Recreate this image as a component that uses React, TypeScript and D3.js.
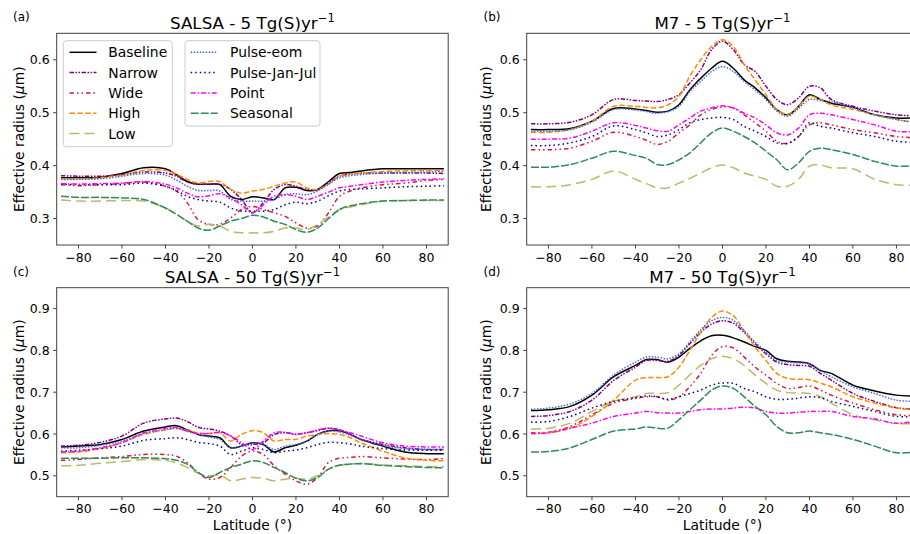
import React from 'react';
import * as d3 from 'd3';

// ---------- data ----------
const LAT = [-88, -80, -70, -60, -50, -40, -35, -30, -25, -20, -15, -10, -5, 0, 5, 10, 15, 20, 25, 30, 35, 40, 45, 50, 60, 70, 80, 88];

const SERIES_NAMES = ['Baseline', 'Narrow', 'Wide', 'High', 'Low', 'Pulse-eom', 'Pulse-Jan-Jul', 'Point', 'Seasonal'];
const X_TICKS = [-80, -60, -40, -20, 0, 20, 40, 60, 80];
const Y_TICKS_5 = [0.3, 0.4, 0.5, 0.6];
const Y_TICKS_50 = [0.5, 0.6, 0.7, 0.8, 0.9];

// (a) SALSA 5 Tg
const A_BASELINE = [.377,.377,.378,.385,.396,.394,.383,.370,.365,.365,.364,.342,.336,.341,.339,.336,.358,.359,.353,.355,.370,.385,.387,.390,.394,.394,.394,.394];
const A_NARROW = [.381,.380,.380,.383,.388,.386,.380,.369,.365,.365,.365,.355,.336,.311,.330,.355,.364,.361,.355,.355,.368,.380,.384,.386,.386,.386,.386,.385];
const A_WIDE = [.364,.362,.364,.366,.369,.361,.352,.330,.298,.289,.289,.301,.317,.323,.317,.311,.304,.292,.282,.286,.311,.342,.352,.358,.364,.367,.372,.374];
const A_HIGH = [.375,.375,.377,.382,.391,.391,.384,.374,.367,.370,.370,.355,.348,.352,.355,.361,.367,.369,.358,.355,.365,.380,.384,.386,.389,.390,.391,.391];
const A_LOW = [.335,.333,.333,.334,.333,.320,.308,.295,.286,.289,.286,.276,.273,.273,.273,.276,.282,.282,.279,.289,.303,.317,.322,.326,.333,.334,.334,.334];
const A_EOM = [.374,.374,.375,.380,.385,.382,.373,.361,.353,.353,.352,.336,.333,.333,.333,.336,.345,.347,.345,.352,.365,.377,.381,.383,.386,.387,.388,.389];
const A_JANJUL = [.365,.364,.364,.364,.367,.361,.353,.342,.336,.333,.331,.320,.314,.314,.314,.317,.326,.331,.328,.333,.343,.352,.355,.356,.358,.360,.361,.362];
const A_POINT = [.366,.365,.366,.367,.370,.365,.358,.348,.341,.343,.347,.339,.326,.311,.326,.342,.345,.342,.336,.342,.350,.358,.361,.364,.369,.372,.374,.375];
const A_SEASONAL = [.342,.340,.340,.339,.336,.320,.308,.295,.282,.278,.286,.295,.300,.306,.303,.295,.289,.279,.274,.282,.300,.317,.324,.328,.333,.334,.335,.335];

// (b) M7 5 Tg
const B_BASELINE = [.468,.468,.470,.484,.508,.507,.504,.501,.503,.515,.543,.565,.584,.597,.584,.562,.547,.528,.506,.496,.512,.534,.525,.518,.510,.496,.490,.490];
const B_NARROW = [.479,.479,.482,.496,.525,.523,.522,.521,.525,.534,.556,.581,.619,.635,.619,.591,.578,.550,.525,.515,.528,.550,.547,.525,.512,.503,.496,.494];
const B_WIDE = [.430,.430,.433,.446,.463,.455,.448,.440,.446,.462,.477,.496,.506,.511,.509,.496,.481,.465,.446,.442,.455,.477,.481,.477,.468,.462,.455,.453];
const B_HIGH = [.463,.463,.468,.484,.512,.512,.510,.509,.515,.531,.569,.600,.625,.638,.625,.591,.562,.534,.506,.497,.512,.531,.525,.515,.506,.496,.487,.482];
const B_LOW = [.360,.360,.364,.374,.390,.374,.366,.358,.358,.367,.376,.386,.396,.401,.396,.386,.380,.374,.361,.361,.374,.399,.401,.396,.394,.374,.364,.363];
const B_EOM = [.465,.465,.468,.482,.506,.505,.502,.499,.502,.512,.540,.559,.578,.587,.578,.559,.543,.525,.503,.493,.508,.525,.523,.521,.509,.496,.487,.482];
const B_JANJUL = [.438,.438,.443,.455,.475,.468,.462,.455,.458,.468,.481,.487,.490,.491,.487,.474,.465,.455,.443,.442,.455,.481,.474,.471,.462,.455,.446,.444];
const B_POINT = [.450,.450,.452,.465,.481,.476,.471,.466,.465,.477,.490,.503,.509,.513,.509,.499,.490,.477,.462,.458,.471,.496,.499,.496,.487,.477,.465,.464];
const B_SEASONAL = [.397,.397,.402,.414,.427,.419,.414,.402,.402,.411,.424,.443,.462,.471,.465,.455,.443,.427,.411,.392,.405,.427,.433,.430,.421,.408,.399,.400];

// (c) SALSA 50 Tg
const C_BASELINE = [.569,.571,.575,.587,.607,.617,.620,.610,.599,.595,.591,.567,.571,.579,.575,.557,.567,.573,.583,.599,.608,.608,.599,.587,.571,.557,.553,.553];
const C_NARROW = [.571,.573,.580,.595,.626,.636,.638,.630,.616,.612,.607,.595,.575,.575,.579,.599,.603,.599,.603,.608,.614,.610,.599,.587,.575,.567,.563,.563];
const C_WIDE = [.537,.539,.543,.546,.551,.551,.547,.532,.508,.492,.496,.520,.547,.559,.551,.524,.504,.488,.480,.496,.532,.542,.544,.546,.543,.540,.539,.541];
const C_HIGH = [.555,.557,.565,.579,.599,.610,.614,.609,.603,.601,.603,.583,.599,.608,.603,.583,.587,.587,.595,.599,.601,.599,.591,.579,.559,.543,.537,.536];
const C_LOW = [.524,.525,.530,.534,.539,.537,.531,.520,.506,.500,.502,.488,.492,.496,.494,.488,.492,.494,.492,.500,.516,.525,.528,.530,.526,.524,.522,.522];
const C_EOM = [.567,.567,.573,.583,.601,.610,.613,.607,.599,.593,.587,.567,.571,.579,.575,.563,.571,.575,.583,.599,.607,.605,.597,.587,.573,.565,.563,.563];
const C_JANJUL = [.559,.561,.565,.571,.585,.589,.591,.587,.580,.577,.571,.551,.559,.567,.563,.555,.559,.562,.567,.575,.580,.579,.576,.571,.565,.562,.561,.561];
const C_POINT = [.557,.559,.567,.579,.603,.614,.616,.607,.601,.601,.604,.595,.579,.563,.583,.603,.604,.600,.603,.610,.614,.610,.603,.595,.579,.571,.569,.569];
const C_SEASONAL = [.542,.542,.542,.543,.543,.541,.537,.528,.508,.496,.508,.520,.528,.536,.532,.520,.508,.494,.488,.496,.516,.525,.528,.529,.525,.522,.520,.519];

// (d) M7 50 Tg
const D_BASELINE = [.656,.658,.666,.693,.737,.764,.778,.778,.772,.784,.805,.823,.835,.836,.830,.820,.809,.800,.780,.774,.772,.768,.752,.745,.717,.703,.693,.691];
const D_NARROW = [.642,.644,.654,.681,.728,.760,.776,.776,.774,.788,.816,.843,.863,.871,.865,.843,.816,.792,.772,.766,.764,.762,.745,.729,.697,.678,.663,.659];
const D_WIDE = [.603,.604,.618,.646,.674,.685,.689,.689,.681,.689,.713,.745,.788,.809,.806,.784,.760,.741,.721,.709,.711,.715,.705,.693,.674,.658,.646,.644];
const D_HIGH = [.601,.603,.614,.642,.681,.729,.735,.735,.737,.760,.800,.843,.879,.894,.883,.847,.808,.776,.745,.733,.731,.730,.722,.713,.689,.674,.662,.658];
const D_LOW = [.612,.614,.626,.654,.678,.689,.697,.697,.699,.717,.741,.764,.780,.786,.780,.764,.741,.721,.705,.699,.698,.697,.689,.674,.646,.634,.625,.625];
const D_EOM = [.659,.662,.672,.697,.741,.772,.784,.784,.780,.792,.820,.849,.871,.879,.872,.847,.820,.796,.776,.772,.770,.768,.752,.737,.713,.697,.681,.678];
const D_JANJUL = [.628,.630,.642,.662,.678,.687,.691,.689,.683,.689,.697,.705,.717,.722,.721,.709,.701,.689,.683,.683,.686,.689,.687,.678,.666,.654,.642,.642];
const D_POINT = [.601,.603,.614,.626,.642,.650,.654,.651,.650,.650,.654,.658,.660,.660,.662,.664,.662,.654,.650,.650,.652,.654,.654,.654,.642,.636,.626,.630];
const D_SEASONAL = [.557,.558,.567,.587,.607,.612,.617,.614,.614,.634,.658,.681,.705,.715,.709,.689,.666,.646,.618,.603,.603,.607,.603,.599,.587,.571,.555,.557];

// ---------- styles ----------
const STYLES = [
  { color: '#000000', dash: undefined },
  { color: '#800080', dash: '4.5,1.5,1.5,1.5,1.5,1.5' },
  { color: '#DC143C', dash: '4.5,3,1.5,3,1.5,3' },
  { color: '#FF8C00', dash: '5.5,2.4' },
  { color: '#BDB76B', dash: '10,5' },
  { color: '#4169E1', dash: '1.5,1.5' },
  { color: '#00008B', dash: '1.5,3' },
  { color: '#FF00FF', dash: '5,2,1.5,2' },
  { color: '#2E8B57', dash: '8,2' },
];

const FONT = '"DejaVu Sans", sans-serif';
const TICK_FS = 12.5;

const PANELS = [
  { id: '(a)', title: 'SALSA - 5 Tg(S)yr', data: [A_BASELINE, A_NARROW, A_WIDE, A_HIGH, A_LOW, A_EOM, A_JANJUL, A_POINT, A_SEASONAL], yDomain: [0.25, 0.65], yTicks: Y_TICKS_5, left: 56.7, top: 33.3, width: 391.5, height: 211.7, xlabel: false, legend: true },
  { id: '(b)', title: 'M7 - 5 Tg(S)yr', data: [B_BASELINE, B_NARROW, B_WIDE, B_HIGH, B_LOW, B_EOM, B_JANJUL, B_POINT, B_SEASONAL], yDomain: [0.25, 0.65], yTicks: Y_TICKS_5, left: 526.7, top: 33.3, width: 391.5, height: 211.7, xlabel: false, legend: false },
  { id: '(c)', title: 'SALSA - 50 Tg(S)yr', data: [C_BASELINE, C_NARROW, C_WIDE, C_HIGH, C_LOW, C_EOM, C_JANJUL, C_POINT, C_SEASONAL], yDomain: [0.45, 0.95], yTicks: Y_TICKS_50, left: 56.7, top: 287.7, width: 391.5, height: 209, xlabel: true, legend: false },
  { id: '(d)', title: 'M7 - 50 Tg(S)yr', data: [D_BASELINE, D_NARROW, D_WIDE, D_HIGH, D_LOW, D_EOM, D_JANJUL, D_POINT, D_SEASONAL], yDomain: [0.45, 0.95], yTicks: Y_TICKS_50, left: 526.7, top: 287.7, width: 391.5, height: 209, xlabel: true, legend: false },
];

const fmtX = d3.format('d');
const fmtY = d3.format('.1f');

function Legend() {
  const col1 = [0, 1, 2, 3, 4];
  const col2 = [5, 6, 7, 8];
  const rowY = (i: number) => 52.3 + i * 20.3;
  const entry = (idx: number, i: number, lx: number, tx: number) => (
    <g key={idx}>
      <line x1={lx} x2={lx + 27} y1={rowY(i)} y2={rowY(i)} stroke={STYLES[idx].color} strokeWidth={1.5} strokeDasharray={STYLES[idx].dash} />
      <text x={tx} y={rowY(i) + 5} fontSize={13.9} fontFamily={FONT} fill="#000">{SERIES_NAMES[idx]}</text>
    </g>
  );
  return (
    <g>
      <rect x={63.3} y={40.7} width={109} height={106} rx={3} fill="#fff" fillOpacity={0.8} stroke="#cccccc" strokeWidth={1} />
      {col1.map((idx, i) => entry(idx, i, 69.5, 108.3))}
      <rect x={185} y={40.7} width={135} height={85.3} rx={3} fill="#fff" fillOpacity={0.8} stroke="#cccccc" strokeWidth={1} />
      {col2.map((idx, i) => entry(idx, i, 190.7, 230))}
    </g>
  );
}

function Panel({ p, k }: { p: any; k: number }) {
  const x = d3.scaleLinear().domain([-90, 90]).range([p.left, p.left + p.width]);
  const y = d3.scaleLinear().domain(p.yDomain).range([p.top + p.height, p.top]);
  const line = d3.line<number>()
    .x((_, i) => x(LAT[i]))
    .y((d) => y(d))
    .curve(d3.curveCatmullRom.alpha(0.5));
  const bottom = p.top + p.height;
  const cx = p.left + p.width / 2;
  const cy = p.top + p.height / 2;
  const clipId = `clip${k}`;
  const ylabX = p.left < 300 ? 23.5 : 491;
  const idX = p.left < 300 ? 13 : 483.5;
  return (
    <g>
      <defs>
        <clipPath id={clipId}>
          <rect x={p.left} y={p.top} width={p.width} height={p.height} />
        </clipPath>
      </defs>
      <g clipPath={`url(#${clipId})`}>
        {p.data.map((vals: number[], i: number) => (
          <path key={i} d={line(vals) || ''} fill="none" stroke={STYLES[i].color} strokeWidth={1.5} strokeDasharray={STYLES[i].dash} />
        ))}
      </g>
      <rect x={p.left} y={p.top} width={p.width} height={p.height} fill="none" stroke="#404040" strokeWidth={1} />
      {X_TICKS.map((t) => (
        <g key={t}>
          <line x1={x(t)} x2={x(t)} y1={bottom} y2={bottom + 3.5} stroke="#404040" strokeWidth={1} />
          <text x={x(t)} y={bottom + 16.5} textAnchor="middle" fontSize={TICK_FS} fontFamily={FONT} fill="#000">{fmtX(t)}</text>
        </g>
      ))}
      {p.yTicks.map((t: number) => (
        <g key={t}>
          <line x1={p.left - 3.5} x2={p.left} y1={y(t)} y2={y(t)} stroke="#404040" strokeWidth={1} />
          <text x={p.left - 7} y={y(t) + 4.5} textAnchor="end" fontSize={TICK_FS} fontFamily={FONT} fill="#000">{fmtY(t)}</text>
        </g>
      ))}
      <text transform={`translate(${ylabX},${cy}) rotate(-90)`} textAnchor="middle" fontSize={13.9} fontFamily={FONT} fill="#000">
        Effective radius (<tspan fontStyle="italic">μ</tspan>m)
      </text>
      <text x={cx} y={p.top - 4.5} textAnchor="middle" fontSize={16.7} fontFamily={FONT} fill="#000">
        {p.title}<tspan dy={-7} fontSize={11.7}>−1</tspan>
      </text>
      <text x={idX} y={p.top - 12} fontSize={12} fontFamily={FONT} fill="#000">{p.id}</text>
      {p.xlabel && (
        <text x={cx} y={529.5} textAnchor="middle" fontSize={13.9} fontFamily={FONT} fill="#000">Latitude (°)</text>
      )}
      {p.legend && <Legend />}
    </g>
  );
}

export default function App() {
  return (
    <svg width={910} height={534} style={{ position: 'absolute', left: 0, top: 0, background: '#fff' }}>
      <rect x={0} y={0} width={910} height={534} fill="#fff" />
      {PANELS.map((p, k) => <Panel key={k} p={p} k={k} />)}
    </svg>
  );
}
